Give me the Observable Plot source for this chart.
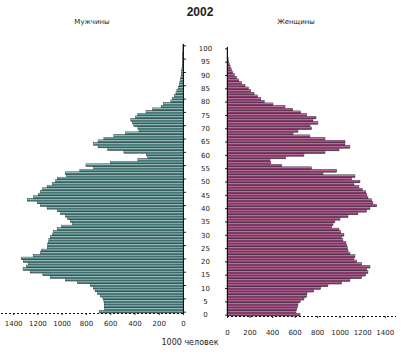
<!DOCTYPE html>
<html><head><meta charset="utf-8">
<script src="https://cdn.jsdelivr.net/npm/d3@7"></script>
<script src="https://cdn.jsdelivr.net/npm/@observablehq/plot@0.6"></script>
<style>
body{margin:0;background:#fff;}
#c{position:relative;width:408px;height:358px;font-family:"DejaVu Sans",sans-serif;color:#222;}
#c svg{position:absolute;left:0;top:0;background:none !important;}
.t{position:absolute;white-space:nowrap;transform:translateX(-50%);line-height:1;}
</style></head><body><div id="c">
<div class="t" style="left:200px;top:5px;font:bold 12px 'Liberation Sans',sans-serif;">2002</div>
<div class="t" style="left:92px;top:19px;font-size:7px;">Мужчины</div>
<div class="t" style="left:296px;top:19px;font-size:7px;">Женщины</div>
<div class="t" style="left:190px;top:339px;font-size:8px;">1000 человек</div>
</div>
<script>
const ages = d3.range(0, 101);
const male = [690,645,645,648,652,660,680,705,725,740,
  765,870,970,1095,1155,1260,1318,1290,1276,1317,
  1334,1234,1176,1168,1118,1115,1110,1105,1094,1077,
  1065,1036,1000,910,928,950,970,1010,1036,1120,
  1176,1200,1284,1230,1190,1175,1160,1120,1077,1050,
  1036,960,970,850,737,800,597,372,290,300,
  487,620,700,737,700,652,570,472,362,372,
  405,415,430,390,372,305,250,180,160,100,
  85,72,58,50,40,32,26,21,17,14,
  11,9,7,5,4,3,2,2,1,1,1];
const female = [648,612,618,625,630,650,683,707,710,770,
  831,896,1017,1091,1195,1230,1251,1239,1269,1195,
  1150,1127,1136,1091,1074,1068,1062,1056,1029,1017,
  1038,1010,994,929,941,958,1003,1074,1162,1239,
  1269,1328,1295,1284,1251,1240,1233,1200,1171,1127,
  1180,1106,1136,852,973,751,485,388,382,520,
  683,870,994,1091,1047,1047,870,736,586,630,
  751,736,807,763,790,707,654,583,515,408,
  330,300,270,240,210,190,160,130,105,85,
  65,50,38,28,20,15,10,7,5,3,4];
const xTicks = [0,200,400,600,800,1000,1200,1400];
const ageTicks = d3.range(0, 101, 5);

const rows = ages.map((a, i) => ({age: a, male: male[i], female: female[i]}));
const c = document.getElementById("c");

function bars(key, dark, light) {
  return [
    Plot.rectX(rows, {x: key, y1: d => d.age - 0.5, y2: d => d.age + 0.5, fill: dark, stroke: "#111", strokeWidth: 0.4}),
    Plot.rectX(rows, {x: key, y1: d => d.age - 0.5, y2: d => d.age + 0.5, fill: light, insetTop: 0.4, insetBottom: 1.6})
  ];
}

const left = Plot.plot({
  width: 200, height: 340,
  marginLeft: 1, marginRight: 17, marginTop: 44, marginBottom: 27,
  x: {domain: [0, 1500], reverse: true},
  y: {domain: [-0.5, 100.5]},
  style: {fontSize: "7px", fontFamily: "DejaVu Sans, sans-serif", color: "#222", background: "none"},
  marks: [
    ...bars("male", "#4d7a79", "#a6e4e2"),
    Plot.ruleY([-0.5], {stroke: "#111", strokeDasharray: "2,2"}),
    Plot.ruleX([0], {stroke: "#111"}),
    Plot.axisY({anchor: "right", ticks: ageTicks, tickSize: 2, tickFormat: () => "", label: null}),
    Plot.axisX({ticks: xTicks, tickSize: 2, tickPadding: 6, label: null, tickFormat: d => String(d)})
  ]
});

const right = Plot.plot({
  width: 408, height: 343,
  marginLeft: 227, marginRight: 12, marginTop: 47, marginBottom: 27,
  x: {domain: [0, 1500]},
  y: {domain: [-0.5, 100.5]},
  style: {fontSize: "7px", fontFamily: "DejaVu Sans, sans-serif", color: "#222", background: "none"},
  marks: [
    ...bars("female", "#7a3f68", "#f07fc0"),
    Plot.ruleY([-0.5], {stroke: "#111", strokeDasharray: "2,2"}),
    Plot.ruleX([0], {stroke: "#111"}),
    Plot.axisY({anchor: "left", ticks: ageTicks, tickSize: 2, tickFormat: () => "", label: null}),
    Plot.text(ageTicks, {x: 0, y: d => d, dx: -22, text: d => String(d), fontSize: 7, fill: "#222"}),
    Plot.axisX({ticks: xTicks, tickSize: 2, tickPadding: 12, label: null, tickFormat: d => String(d)})
  ]
});

c.appendChild(left);
c.appendChild(right);
</script>
</body></html>
